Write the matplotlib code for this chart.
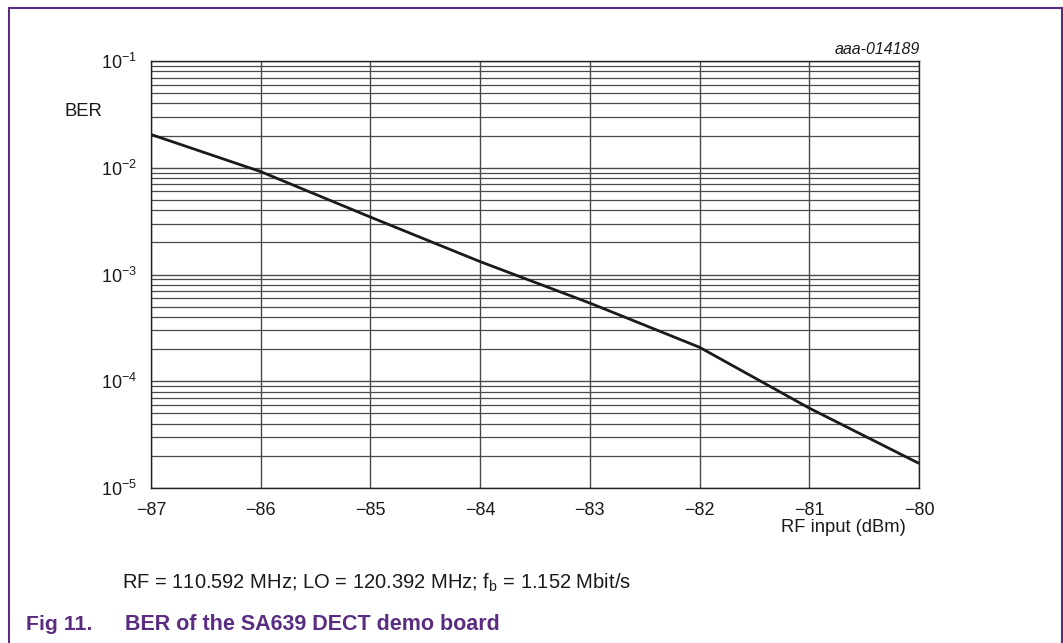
import numpy as np
import matplotlib.pyplot as plt
from matplotlib.ticker import LogLocator, FixedLocator
from matplotlib.lines import Line2D

plt.rcParams['font.family'] = ['Liberation Sans', 'DejaVu Sans']
plt.rcParams['mathtext.fontset'] = 'custom'
plt.rcParams['mathtext.rm'] = 'Liberation Sans'
plt.rcParams['mathtext.it'] = 'Liberation Sans:italic'

# data
rf_input = [-87, -86, -85, -84, -83, -82, -81, -80]
ber = [2.05e-2, 9.2e-3, 3.45e-3, 1.32e-3, 5.4e-4, 2.08e-4, 5.6e-5, 1.7e-5]
xticks = [-87, -86, -85, -84, -83, -82, -81, -80]

purple = '#5a2d81'
gridc = '#4a4a4a'
txtc = '#1a1a1a'

fig = plt.figure(figsize=(10.63, 6.43), dpi=100)
ax = fig.add_axes([151/1063, 155/643, 768/1063, 427/643])

ax.plot(rf_input, ber, color=txtc, lw=2.0, solid_capstyle='butt', zorder=3)

ax.set_yscale('log')
ax.set_xlim(-87, -80)
ax.set_ylim(1e-5, 1e-1)
ax.xaxis.set_major_locator(FixedLocator(xticks))
ax.set_xticklabels(['\u2212%d' % abs(v) for v in xticks])
ax.yaxis.set_major_locator(LogLocator(base=10, numticks=10))
ax.yaxis.set_minor_locator(LogLocator(base=10, subs=np.arange(2, 10), numticks=20))
ax.yaxis.set_minor_formatter(plt.NullFormatter())

ax.grid(True, which='major', axis='both', color=gridc, lw=1.0)
ax.grid(True, which='minor', axis='y', color=gridc, lw=0.9)
ax.tick_params(which='both', length=0, labelsize=13, colors=txtc)
ax.tick_params(axis='x', pad=10)
ax.tick_params(axis='y', pad=10)
for s in ax.spines.values():
    s.set_color('#222222')
    s.set_linewidth(1.0)

fig.text(64/1063, 1 - 112/643, 'BER', fontsize=13.3, ha='left', va='center', color=txtc)
fig.text(920/1063, 1 - 50/643, 'aaa-014189', fontsize=11.5, style='italic',
         ha='right', va='center', color=txtc)
fig.text(906/1063, 1 - 527/643, 'RF input (dBm)', fontsize=13.2, ha='right', va='center',
         color=txtc)
fig.text(122/1063, 1 - 583/643,
         'RF = 110.592 MHz; LO = 120.392 MHz; f$_\\mathrm{b}$ = 1.152 Mbit/s',
         fontsize=14.5, ha='left', va='center', color=txtc)
fig.text(26/1063, 1 - 625/643, 'Fig 11.', fontsize=15.3, fontweight='bold',
         ha='left', va='center', color=purple)
fig.text(125/1063, 1 - 625/643, 'BER of the SA639 DECT demo board', fontsize=15.5,
         fontweight='bold', ha='left', va='center', color=purple)

# purple frame (open at the bottom)
yt = 1 - 8/643
xl = 8.5/1063
xr = 1061.5/1063
fig.add_artist(Line2D([xl, xl], [0, yt], color=purple, lw=1.5, transform=fig.transFigure))
fig.add_artist(Line2D([xr, xr], [0, yt], color=purple, lw=1.5, transform=fig.transFigure))
fig.add_artist(Line2D([xl, xr], [yt, yt], color=purple, lw=1.5, transform=fig.transFigure))

fig.savefig('out.png', dpi=100)
